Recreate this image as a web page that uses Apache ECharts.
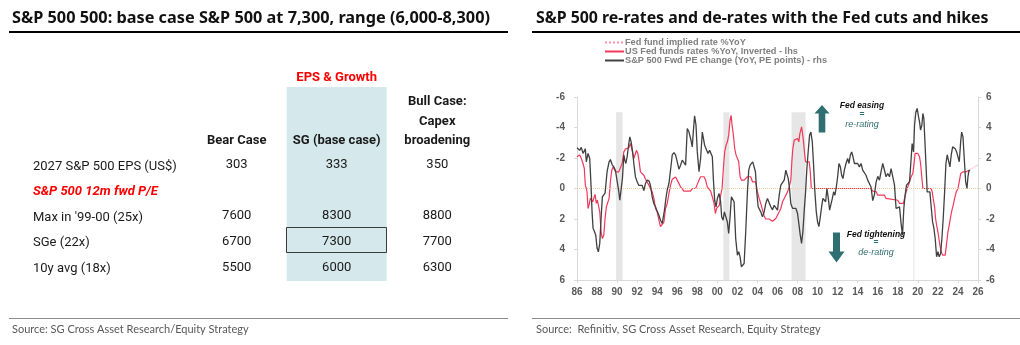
<!DOCTYPE html>
<html>
<head>
<meta charset="utf-8">
<script src="https://cdn.jsdelivr.net/npm/echarts@6/dist/echarts.min.js"></script>
<style>
html,body{margin:0;padding:0;background:#fff;}
#chart{width:1020px;height:345px;}
</style>
</head>
<body>
<div id="chart"></div>
<script>
// ---------- Left panel: table data ----------
const leftTitle = 'S&P 500 500: base case S&P 500 at 7,300, range (6,000-8,300)';
const leftSource = 'Source: SG Cross Asset Research/Equity Strategy';
const groupHeader = 'EPS & Growth';
const columnHeaders = ['Bear Case', 'SG (base case)', 'Bull Case:\nCapex\nbroadening'];
const sectionLabel = 'S&P 500 12m fwd P/E';
const rowLabels = ['2027 S&P 500 EPS (US$)', "Max in '99-00 (25x)", 'SGe (22x)', '10y avg (18x)'];
const bearValues = [303, 7600, 6700, 5500];
const baseValues = [333, 8300, 7300, 6000];
const bullValues = [350, 8800, 7700, 6300];

// ---------- Right panel: chart data ----------
const rightTitle = 'S&P 500 re-rates and de-rates with the Fed cuts and hikes';
const rightSource = 'Source:  Refinitiv, SG Cross Asset Research, Equity Strategy';
const legendNames = ['Fed fund implied rate %YoY', 'US Fed funds rates %YoY, Inverted - lhs', 'S&P 500 Fwd PE change (YoY, PE points) - rhs'];
const easingText = ['Fed easing', '=', 're-rating'];
const tighteningText = ['Fed tightening', '=', 'de-rating'];
const recessions = [[1989.9, 1990.55], [2000.6, 2001.2], [2007.4, 2008.8], [2019.55, 2019.65]];

// S&P 500 fwd PE change (rhs), [year, value]
const peChange = [
[1986.00,2.67],[1986.27,2.5],[1986.43,2.7],[1986.6,2.3],[1986.83,2.6],[1986.93,1.75],[1987.1,2.3],[1987.27,1.97],
[1987.4,0.2],[1987.5,-1.5],[1987.6,-2.6],[1987.73,-2.8],[1987.87,-3.06],[1988.0,-3.9],[1988.13,-4.15],[1988.27,-3.6],
[1988.4,-2.0],[1988.53,-0.55],[1988.67,-0.6],[1988.8,-0.3],[1989.0,1.1],[1989.2,1.75],[1989.33,1.9],[1989.5,1.57],
[1989.67,1.42],[1989.83,1.2],[1990.0,1.1],[1990.17,-0.2],[1990.27,-0.77],[1990.4,-0.65],[1990.53,0.65],[1990.67,2.2],
[1990.77,1.86],[1990.87,1.64],[1991.0,2.07],[1991.17,2.95],[1991.27,3.39],[1991.4,3.06],[1991.53,2.5],[1991.67,1.64],
[1991.83,0.76],[1992.0,0.44],[1992.17,0.2],[1992.33,0.1],[1992.5,0.2],[1992.67,-0.13],[1992.83,0.33],[1993.0,0.55],
[1993.2,0.48],[1993.33,0.2],[1993.5,-0.55],[1993.67,-1.0],[1993.83,-1.2],[1994.0,-1.5],[1994.17,-1.75],[1994.33,-2.08],
[1994.5,-2.3],[1994.6,-2.2],[1994.73,-1.4],[1994.87,-0.65],[1995.0,-0.1],[1995.17,0.33],[1995.33,1.2],[1995.5,2.2],
[1995.67,2.35],[1995.83,2.2],[1996.0,1.75],[1996.17,1.27],[1996.33,1.53],[1996.5,1.86],[1996.67,1.95],[1996.83,1.53],
[1997.0,3.93],[1997.17,3.7],[1997.33,3.28],[1997.5,2.73],[1997.6,3.7],[1997.73,4.77],[1997.87,4.15],[1998.0,2.4],
[1998.17,1.1],[1998.33,1.97],[1998.5,3.7],[1998.6,3.6],[1998.73,2.84],[1998.9,2.73],[1999.07,2.3],[1999.23,2.5],
[1999.4,2.6],[1999.5,2.08],[1999.6,0.65],[1999.73,-0.77],[1999.87,-1.2],[2000.0,-0.65],[2000.17,-0.33],[2000.33,-0.87],
[2000.43,-1.86],[2000.57,-2.08],[2000.7,-1.53],[2000.87,-1.42],[2001.0,-2.2],[2001.13,-2.95],[2001.27,-1.86],[2001.4,-0.55],
[2001.53,-0.65],[2001.67,-0.87],[2001.83,-3.28],[2002.0,-4.37],[2002.13,-4.15],[2002.27,-4.48],[2002.4,-5.14],[2002.53,-5.03],
[2002.67,-4.92],[2002.83,-2.84],[2003.0,-0.22],[2003.13,1.2],[2003.27,1.53],[2003.4,1.64],[2003.53,1.75],[2003.67,1.86],
[2003.8,1.1],[2003.93,-0.22],[2004.07,-1.2],[2004.2,-1.31],[2004.33,-1.53],[2004.5,-1.86],[2004.67,-1.53],[2004.83,-0.98],
[2005.0,-0.65],[2005.17,-0.77],[2005.33,-1.2],[2005.5,-1.4],[2005.67,-1.1],[2005.83,-1.2],[2006.0,-1.42],[2006.17,-0.44],
[2006.33,0.22],[2006.5,0.33],[2006.67,0.55],[2006.83,1.2],[2006.93,1.3],[2007.07,0.65],[2007.2,0],[2007.33,-1.0],
[2007.5,-1.3],[2007.67,-1.42],[2007.83,-1.3],[2008.0,-1.64],[2008.13,-2.3],[2008.27,-3.06],[2008.4,-3.6],[2008.53,-2.84],
[2008.67,-1.42],[2008.8,-0.22],[2008.93,1.3],[2009.07,2.5],[2009.2,3.5],[2009.33,3.7],[2009.47,3.06],[2009.6,1.53],
[2009.73,-0.22],[2009.87,-1.53],[2010.0,-2.2],[2010.13,-2.5],[2010.27,-1.86],[2010.4,-1.2],[2010.53,-0.65],[2010.67,-0.55],
[2010.8,-0.87],[2010.93,0],[2011.07,-0.65],[2011.2,-1.42],[2011.33,-1.31],[2011.47,-0.65],[2011.6,-0.22],[2011.73,-0.44],
[2011.87,0.1],[2012.0,0.77],[2012.13,1.64],[2012.27,1.42],[2012.4,0.87],[2012.53,0.65],[2012.67,1.2],[2012.83,1.64],
[2013.0,1.97],[2013.13,1.64],[2013.27,2.2],[2013.4,2.4],[2013.53,2.08],[2013.67,1.64],[2013.83,1.75],[2014.0,1.64],
[2014.17,1.42],[2014.33,1.64],[2014.5,1.2],[2014.67,1.3],[2014.83,0.87],[2015.0,0.55],[2015.17,0.44],[2015.33,0.1],
[2015.5,-0.8],[2015.67,-0.4],[2015.83,0.4],[2016.0,0.8],[2016.17,0.55],[2016.33,1.1],[2016.5,1.64],[2016.67,1.75],
[2016.83,0.77],[2017.0,0.98],[2017.17,0.77],[2017.33,1.3],[2017.5,1.2],[2017.67,0.22],[2017.83,-1.31],[2018.0,-1.42],
[2018.17,-1.2],[2018.33,-2.3],[2018.47,-3.06],[2018.6,-1.31],[2018.73,-0.44],[2018.87,0.22],[2019.0,0.1],[2019.17,0.44],
[2019.33,1.97],[2019.43,2.95],[2019.57,2.4],[2019.67,4.15],[2019.8,5.0],[2019.93,5.25],[2020.07,4.7],[2020.17,4.37],
[2020.27,3.83],[2020.4,4.15],[2020.5,4.92],[2020.6,4.6],[2020.7,3.17],[2020.83,1.3],[2020.93,-0.22],[2021.07,-0.1],
[2021.2,-0.22],[2021.33,-1.2],[2021.47,-2.19],[2021.6,-2.6],[2021.73,-3.28],[2021.87,-4.48],[2022.0,-4.15],[2022.13,-4.48],
[2022.27,-4.26],[2022.4,-3.28],[2022.53,-1.97],[2022.67,-0.22],[2022.8,1.64],[2022.93,2.2],[2023.07,2.3],[2023.2,1.42],
[2023.33,2.2],[2023.47,2.73],[2023.6,2.73],[2023.73,2.6],[2023.87,2.4],[2024.0,2.5],[2024.13,1.75],[2024.27,3.06],
[2024.37,3.7],[2024.5,3.39],[2024.63,1.97],[2024.77,0.44],[2024.9,0],[2025.0,0.77],[2025.1,1.2],[2025.2,1.14]
];

// US Fed funds rate %YoY as read on the inverted lhs axis, [year, value]
const fedFundsInv = [
[1986.0,-2.08],[1986.27,-2.2],[1986.43,-1.97],[1986.6,-1.64],[1986.73,-1.31],[1986.83,-0.22],[1986.93,0],[1987.0,0.22],
[1987.1,1.31],[1987.2,1.09],[1987.33,0.65],[1987.43,0.55],[1987.57,0.87],[1987.67,0.65],[1987.8,0.39],[1987.93,0.98],
[1988.03,0.77],[1988.17,0.65],[1988.27,1.53],[1988.4,2.84],[1988.53,3.28],[1988.67,3.06],[1988.8,1.97],[1988.93,1.2],
[1989.07,1.09],[1989.2,0.65],[1989.33,-0.44],[1989.47,-1.2],[1989.6,-1.42],[1989.73,-1.31],[1989.87,-1.09],[1990.0,-1.09],
[1990.17,-1.09],[1990.33,-1.2],[1990.5,-1.64],[1990.67,-2.4],[1990.83,-2.58],[1991.0,-2.5],[1991.17,-2.67],[1991.33,-2.95],
[1991.5,-2.5],[1991.67,-1.97],[1991.83,-2.08],[1991.93,-2.5],[1992.07,-2.3],[1992.2,-1.75],[1992.33,-1.09],[1992.5,-0.98],
[1992.67,-0.87],[1992.83,-0.61],[1993.0,-0.55],[1993.17,-0.22],[1993.33,-0.11],[1993.5,0.22],[1993.67,0.65],[1993.83,1.31],
[1994.0,1.53],[1994.17,2.08],[1994.33,2.5],[1994.5,2.6],[1994.67,2.2],[1994.83,1.31],[1995.0,0.98],[1995.17,0.33],
[1995.33,-0.22],[1995.5,-0.6],[1995.67,-0.7],[1995.83,-0.75],[1996.0,-0.55],[1996.33,-0.11],[1996.67,0.17],[1997.0,0.17],
[1997.33,0.17],[1997.5,0],[1997.83,0],[1998.0,-0.11],[1998.17,-0.55],[1998.33,-0.77],[1998.67,-0.77],[1998.83,-0.55],
[1999.0,-0.11],[1999.17,0],[1999.33,0.17],[1999.5,0.55],[1999.67,0.98],[1999.8,1.64],[1999.93,1.31],[2000.07,1.2],
[2000.2,1.09],[2000.33,0.44],[2000.47,0],[2000.6,-1.31],[2000.73,-2.4],[2000.87,-2.84],[2001.0,-3.06],[2001.13,-3.5],
[2001.27,-4.48],[2001.37,-4.8],[2001.47,-4.15],[2001.6,-3.5],[2001.73,-2.62],[2001.87,-2.19],[2002.0,-2.08],[2002.13,-1.75],
[2002.27,-0.77],[2002.4,-0.55],[2002.67,-0.55],[2002.83,-0.65],[2003.0,-0.77],[2003.33,-0.77],[2003.5,-0.44],[2003.83,-0.44],
[2004.0,0.22],[2004.17,0.65],[2004.33,0.98],[2004.5,1.4],[2004.67,1.8],[2004.83,2.0],[2005.17,2.0],[2005.33,1.97],
[2005.5,2.15],[2005.67,2.08],[2005.83,1.97],[2006.0,1.86],[2006.17,1.53],[2006.33,1.31],[2006.5,0.87],[2006.67,0.65],
[2006.83,0.44],[2007.0,0.22],[2007.17,-0.11],[2007.33,-0.55],[2007.43,-1.75],[2007.53,-2.62],[2007.67,-3.17],[2007.83,-3.17],
[2008.0,-3.28],[2008.13,-3.06],[2008.23,-3.6],[2008.33,-3.83],[2008.4,-4.04],[2008.5,-3.6],[2008.6,-3.06],[2008.7,-2.3],
[2008.8,-1.75],[2009.17,-1.75],[2009.27,-1.09],[2009.37,0],[2015.33,0],[2015.5,0.17],[2015.83,0.2],[2016.0,0.44],
[2016.67,0.44],[2016.83,0.65],[2017.0,0.77],[2018.0,0.77],[2018.17,0.98],[2018.57,0.98],[2018.67,0.65],[2018.83,0.22],
[2019.0,-0.11],[2019.17,-0.44],[2019.33,-0.77],[2019.5,-0.98],[2019.6,-1.53],[2019.73,-2.3],[2020.0,-2.3],[2020.17,-2.08],
[2020.27,-1.64],[2020.4,-1.64],[2020.5,0],[2021.33,0],[2021.43,0.22],[2021.53,0.65],[2021.67,1.2],[2021.77,1.97],
[2021.87,2.4],[2022.0,2.84],[2022.1,3.28],[2022.2,3.72],[2022.33,4.15],[2022.47,4.37],[2022.6,4.48],[2022.73,4.37],
[2022.87,3.6],[2023.0,2.84],[2023.13,2.4],[2023.27,1.86],[2023.4,1.42],[2023.53,1.09],[2023.67,0.65],[2023.83,0.22],
[2024.0,0],[2024.13,-0.44],[2024.27,-0.98],[2024.5,-1.09],[2024.83,-1.09],[2025.07,-1.2]
];

// Fed fund implied rate %YoY (lhs, inverted), [year, value]
const fedImplied = [[2025.07,-1.2],[2025.5,-1.35],[2026.0,-1.55]];

// ---------- Build ----------
const TEXT = '#1a1a1a';
const TABLE_FONT = 'Roboto, "Liberation Sans", sans-serif';
const colX = [236.7, 336.7, 437.3];
const rowY = [165, 216, 241.5, 267.5];
const g = [];
function txt(text, x, y, opt) {
  g.push({type:'text', silent:true, z:10, style:Object.assign({text:text, x:x, y:y, textAlign:'left', textVerticalAlign:'middle', fill:TEXT, fontFamily:TABLE_FONT, fontSize:13}, opt||{})});
}
// titles & rules
txt(leftTitle, 12, 18, {fontFamily:'"Noto Sans", sans-serif', fontWeight:'bold', fontSize:16.3, fill:'#111'});
txt(rightTitle, 536, 18, {fontFamily:'"Noto Sans", sans-serif', fontWeight:'bold', fontSize:15.9, fill:'#111'});
g.push({type:'line', silent:true, shape:{x1:9,y1:32,x2:508,y2:32}, style:{stroke:'#000', lineWidth:2}});
g.push({type:'line', silent:true, shape:{x1:532,y1:32,x2:1020,y2:32}, style:{stroke:'#000', lineWidth:2}});
g.push({type:'line', silent:true, shape:{x1:9,y1:318.5,x2:508,y2:318.5}, style:{stroke:'#8c8c8c', lineWidth:1}});
g.push({type:'line', silent:true, shape:{x1:532,y1:318.5,x2:1020,y2:318.5}, style:{stroke:'#8c8c8c', lineWidth:1}});
txt(leftSource, 12, 329, {fontFamily:'Lato, sans-serif', fontSize:11, fill:'#595959'});
txt(rightSource, 536, 329, {fontFamily:'Lato, sans-serif', fontSize:11, fill:'#595959'});
// table shading & box
g.push({type:'rect', silent:true, z:1, shape:{x:286.7, y:87, width:100, height:194}, style:{fill:'#d5e8eb'}});
g.push({type:'rect', silent:true, z:5, shape:{x:286.5, y:227.5, width:100, height:25}, style:{fill:null, stroke:'#3a3a3a', lineWidth:1}});
txt(groupHeader, colX[1], 78, {textAlign:'center', fontWeight:'bold', fill:'#ff0000'});
columnHeaders.forEach(function(h, i){
  const lines = h.split('\n');
  lines.forEach(function(l, j){
    txt(l, colX[i], 141 - (lines.length-1-j)*19.7, {textAlign:'center', fontWeight:'bold'});
  });
});
txt(sectionLabel, 33, 191.5, {fontWeight:'bold', fontStyle:'italic', fill:'#ff0000'});
rowLabels.forEach(function(l, i){
  txt(l, 33, rowY[i] + 1.5, {});
  txt(String(bearValues[i]), colX[0], rowY[i], {textAlign:'center'});
  txt(String(baseValues[i]), colX[1], rowY[i], {textAlign:'center'});
  txt(String(bullValues[i]), colX[2], rowY[i], {textAlign:'center'});
});
// arrows & annotation
const TEAL = '#2f6e71';
g.push({type:'polygon', silent:true, z:10, shape:{points:[[822,105],[829.5,113.5],[825.3,113.5],[825.3,132.5],[818.7,132.5],[818.7,113.5],[814.5,113.5]]}, style:{fill:TEAL}});
g.push({type:'polygon', silent:true, z:10, shape:{points:[[833,232.5],[840,232.5],[840,251.5],[844.5,251.5],[836.5,262.5],[828.5,251.5],[833,251.5]]}, style:{fill:TEAL}});
const annFont = '"Liberation Sans", Arial, sans-serif';
txt(easingText[0], 862, 106, {textAlign:'center', fontFamily:annFont, fontSize:8.5, fontWeight:'bold', fontStyle:'italic', fill:'#111'});
txt(easingText[1], 862, 115, {textAlign:'center', fontFamily:annFont, fontSize:8.5, fontWeight:'bold', fill:TEAL});
txt(easingText[2], 862, 124, {textAlign:'center', fontFamily:annFont, fontSize:9, fontStyle:'italic', fill:TEAL});
txt(tighteningText[0], 876, 234.5, {textAlign:'center', fontFamily:annFont, fontSize:8.5, fontWeight:'bold', fontStyle:'italic', fill:'#111'});
txt(tighteningText[1], 876, 243, {textAlign:'center', fontFamily:annFont, fontSize:8.5, fontWeight:'bold', fill:TEAL});
txt(tighteningText[2], 876, 252.5, {textAlign:'center', fontFamily:annFont, fontSize:9, fontStyle:'italic', fill:TEAL});

const AXIS_GREY = '#d9d9d9';
const LABEL = {color:'#595959', fontSize:10, fontWeight:'bold', fontFamily:annFont};

const chart = echarts.init(document.getElementById('chart'), null, {renderer:'canvas'});
chart.setOption({
  animation:false,
  backgroundColor:'#fff',
  graphic:g,
  legend:{
    data:legendNames,
    orient:'vertical', left:604, top:38, padding:0,
    itemWidth:19, itemHeight:6.5, itemGap:0,
    itemStyle:{opacity:0, borderWidth:0},
    textStyle:{fontSize:9.2, fontWeight:'bold', color:'#808080', fontFamily:annFont, lineHeight:6.6, padding:[0,0,0,-4]}
  },
  grid:{left:577, right:42, top:97, bottom:65, containLabel:false},
  xAxis:{
    type:'value', min:1986, max:2026, interval:2,
    axisLine:{show:true, onZero:false, lineStyle:{color:AXIS_GREY}},
    axisTick:{show:true, length:3, lineStyle:{color:AXIS_GREY}},
    splitLine:{show:false},
    axisLabel:Object.assign({margin:7, formatter:function(v){ return String(v % 100).padStart(2,'0'); }}, LABEL)
  },
  yAxis:[
    {type:'value', position:'left', inverse:true, min:-6, max:6, interval:2,
     axisLine:{show:true, onZero:false, lineStyle:{color:AXIS_GREY}},
     axisTick:{show:true, length:3, lineStyle:{color:AXIS_GREY}},
     splitLine:{show:false}, axisLabel:Object.assign({margin:12}, LABEL)},
    {type:'value', position:'right', min:-6, max:6, interval:2,
     axisLine:{show:true, onZero:false, lineStyle:{color:AXIS_GREY}},
     axisTick:{show:true, length:3, lineStyle:{color:AXIS_GREY}},
     splitLine:{show:false}, axisLabel:Object.assign({margin:8}, LABEL)}
  ],
  series:[
    {name:legendNames[0], type:'line', yAxisIndex:0, data:fedImplied, symbol:'none', z:3,
     lineStyle:{color:'#ff8fa3', width:1, type:'dotted'}, itemStyle:{color:'#ff8fa3'},
     markArea:{silent:true, itemStyle:{color:'#e6e6e6'},
       data:recessions.map(function(r){ return [{xAxis:r[0], yAxis:-5},{xAxis:r[1], yAxis:6}]; })},
     markLine:{silent:true, symbol:'none', label:{show:false},
       lineStyle:{color:'#f7caa0', type:'dotted', width:1}, data:[{yAxis:0}]}
    },
    {name:legendNames[1], type:'line', yAxisIndex:0, data:fedFundsInv, symbol:'none', z:4,
     lineStyle:{color:'#f2385a', width:1.2}, itemStyle:{color:'#f2385a'}},
    {name:legendNames[2], type:'line', yAxisIndex:1, data:peChange, symbol:'none', z:5,
     lineStyle:{color:'#404040', width:1.3}, itemStyle:{color:'#404040'}}
  ]
});
</script>
</body>
</html>
